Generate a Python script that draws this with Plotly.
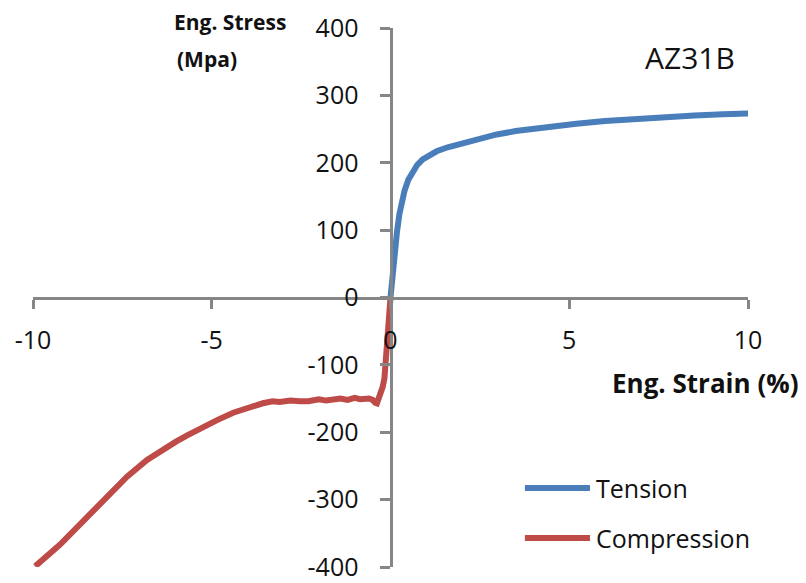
import plotly.graph_objects as go

# Engineering stress-strain curves for AZ31B magnesium sheet
tension_strain = [0, 0.05, 0.11, 0.18, 0.25, 0.32, 0.39, 0.5, 0.62, 0.75, 0.9, 1.1, 1.29,
                  1.6, 2.02, 2.5, 2.97, 3.5, 3.9, 4.5, 5.2, 6.0, 7.0, 7.6, 8.5, 9.3, 10.05]
tension_stress = [0, 30, 65, 97, 124, 143, 158, 175, 188, 197, 205, 212, 217,
                  223, 229, 236, 242, 247, 250, 254, 258, 262, 266, 267, 270, 272, 273]

compression_strain = [0, -0.04, -0.07, -0.1, -0.13, -0.17, -0.22, -0.27, -0.32, -0.38, -0.43,
                      -0.5, -0.6, -0.85, -1.0, -1.2, -1.4, -1.61, -1.8, -2.0, -2.3, -2.53,
                      -2.8, -3.1, -3.3, -3.57, -3.9, -4.4, -4.85, -5.3, -5.7, -6.0, -6.36,
                      -6.81, -7.37, -7.93, -8.5, -9.25, -9.94]
compression_stress = [0, -25, -53, -80, -105, -120, -133, -143, -152, -157, -156,
                      -152, -150, -151, -149, -152, -150, -151, -153, -151, -154, -154,
                      -153, -155, -154, -157, -162, -171, -182, -193, -205, -214, -225,
                      -241, -266, -297, -328, -367, -399]

x_tickvals = [-10, -5, 0, 5, 10]
x_ticktext = ["-10", "-5", "0", "5", "10"]
y_tickvals = [-400, -300, -200, -100, 0, 100, 200, 300, 400]
y_ticktext = ["-400", "-300", "-200", "-100", "0", "100", "200", "300", "400"]

BLUE = "#4A7EBB"
RED = "#BE4B48"
AXIS = "#868686"
FONT = "Open Sans"

fig = go.Figure()
fig.add_trace(go.Scatter(x=tension_strain, y=tension_stress, mode="lines",
                         line=dict(color=BLUE, width=6), name="Tension", showlegend=False))
fig.add_trace(go.Scatter(x=compression_strain, y=compression_stress, mode="lines",
                         line=dict(color=RED, width=6), name="Compression", showlegend=False))

axis_common = dict(showgrid=False, zeroline=False, showline=True, linecolor=AXIS, linewidth=3,
                   ticks="outside", tickcolor=AXIS, tickwidth=3, automargin=False,
                   tickfont=dict(family=FONT, size=25, color="#111"), anchor="free", position=0.5)

fig.update_xaxes(range=[-10, 10], tickvals=x_tickvals, ticktext=x_ticktext,
                 ticklen=9, ticklabelstandoff=10, **axis_common)
fig.update_yaxes(range=[-400, 400], tickvals=y_tickvals, ticktext=y_ticktext,
                 ticklen=10, ticklabelstandoff=16, **axis_common)

# legend drawn as line swatches with labels
legend_items = [("Tension", BLUE, 0.1466), ("Compression", RED, 0.0538)]
for label, color, ly in legend_items:
    fig.add_shape(type="line", xref="paper", yref="paper", x0=0.688, x1=0.779, y0=ly, y1=ly,
                  line=dict(color=color, width=6))
    fig.add_annotation(text=label, xref="paper", yref="paper", x=0.784, y=ly,
                       xanchor="left", yanchor="middle", showarrow=False,
                       font=dict(family=FONT, size=25, color="#111"))

fig.add_annotation(text="AZ31B", xref="paper", yref="paper", x=0.919, y=0.946,
                   xanchor="center", yanchor="middle", showarrow=False,
                   font=dict(family=FONT, size=30, color="#111"))
fig.add_annotation(text="<b>Eng. Strain (%)</b>", xref="paper", yref="paper", x=1.073, y=0.341,
                   xanchor="right", yanchor="middle", showarrow=False,
                   font=dict(family=FONT, size=26, color="#111"))
fig.add_annotation(text="<b>Eng. Stress</b>", xref="paper", yref="paper", x=0.194, y=1.011,
                   xanchor="left", yanchor="middle", showarrow=False,
                   font=dict(family=FONT, size=21, color="#111"))
fig.add_annotation(text="<b>(Mpa)</b>", xref="paper", yref="paper", x=0.198, y=0.943,
                   xanchor="left", yanchor="middle", showarrow=False,
                   font=dict(family=FONT, size=21, color="#111"))

fig.update_layout(width=806, height=583, margin=dict(l=33, r=58, t=28, b=16),
                  plot_bgcolor="white", paper_bgcolor="white")

fig.write_html("out.html")
